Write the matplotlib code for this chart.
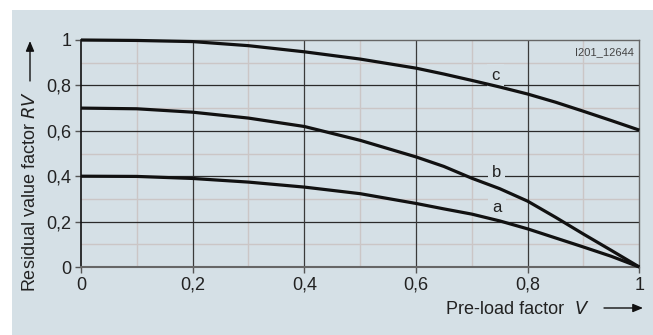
import matplotlib
matplotlib.use("Agg")
import matplotlib.pyplot as plt
from matplotlib.patches import Rectangle, FancyArrowPatch

plt.rcParams['font.family'] = ['Liberation Sans', 'DejaVu Sans']

V = [0.0, 0.1, 0.2, 0.3, 0.4, 0.5, 0.6, 0.65, 0.7, 0.75, 0.8, 0.85, 0.9, 0.95, 1.0]
curve_a = [0.400, 0.399, 0.390, 0.374, 0.352, 0.323, 0.280, 0.256, 0.233, 0.203, 0.168, 0.128, 0.088, 0.047, 0.0]
curve_b = [0.700, 0.697, 0.682, 0.656, 0.619, 0.558, 0.485, 0.443, 0.391, 0.345, 0.290, 0.219, 0.145, 0.073, 0.0]
curve_c = [1.000, 0.998, 0.993, 0.975, 0.948, 0.916, 0.876, 0.850, 0.822, 0.793, 0.762, 0.726, 0.686, 0.645, 0.603]
curve_names = ['a', 'b', 'c']
label_pos = [(0.745, 0.26), (0.744, 0.417), (0.743, 0.845)]
x_ticks = [0, 0.2, 0.4, 0.6, 0.8, 1.0]
x_ticklabels = ['0', '0,2', '0,4', '0,6', '0,8', '1']
y_ticks = [0, 0.2, 0.4, 0.6, 0.8, 1.0]
y_ticklabels = ['0', '0,2', '0,4', '0,6', '0,8', '1']
code_text = 'I201_12644'

W, H = 653, 335
bg = '#d5e0e6'
fig = plt.figure(figsize=(W / 100, H / 100), dpi=100)
fig.patch.set_facecolor('white')
fig.add_artist(Rectangle((12.3 / W, 0), 1 - 12.3 / W, 1 - 10 / H,
                         transform=fig.transFigure, facecolor=bg,
                         edgecolor='none', zorder=0))

ax = fig.add_axes([81 / W, 1 - 267 / H, (639.3 - 81) / W, (267 - 40) / H])
ax.set_facecolor(bg)
ax.set_xlim(0, 1)
ax.set_ylim(0, 1)

# minor grid
for v in [0.1, 0.3, 0.5, 0.7, 0.9]:
    ax.axvline(v, color='#cbc6c6', lw=1.0, zorder=1)
    ax.axhline(v, color='#cbc6c6', lw=1.0, zorder=1)
# major grid
for v in [0.2, 0.4, 0.6, 0.8]:
    ax.axvline(v, color='#3a3a3a', lw=0.9, zorder=2)
    ax.axhline(v, color='#2a2a2a', lw=0.9, zorder=2)

for sp in ['top', 'right']:
    ax.spines[sp].set_color('#666666')
    ax.spines[sp].set_linewidth(1.0)
ax.spines['bottom'].set_color('#666666')
ax.spines['bottom'].set_linewidth(1.5)
ax.spines['left'].set_color('#111111')
ax.spines['left'].set_linewidth(1.2)

for ys in (curve_a, curve_b, curve_c):
    ax.plot(V, ys, color='#111111', lw=2.3, solid_capstyle='butt',
            solid_joinstyle='round', zorder=4, clip_on=False)

for name, (lx, ly) in zip(curve_names, label_pos):
    ax.text(lx, ly, name, fontsize=12, ha='center', va='center', color='#222222', zorder=3,
            bbox=dict(boxstyle='square,pad=0.25', facecolor=bg, edgecolor='none'))

ax.text(0.937, 0.948, code_text, fontsize=8, ha='center', va='center', color='#444444', zorder=5)

ax.set_xticks(x_ticks)
ax.set_xticklabels(x_ticklabels)
ax.set_yticks(y_ticks)
ax.set_yticklabels(y_ticklabels)
ax.tick_params(axis='both', which='major', labelsize=13, length=4, width=1,
               color='#555555', labelcolor='#222222', pad=3)

# axis labels with arrows
fig.text(31 / W, 1 - 192 / H, 'Residual value factor $\\mathit{RV}$', rotation=90,
         fontsize=13, ha='center', va='center', color='#222222')
fig.text(505 / W, 1 - 310 / H, 'Pre-load factor', fontsize=13, ha='center', va='center',
         color='#222222')
fig.text(582 / W, 1 - 310 / H, '$\\mathit{V}$', fontsize=13, ha='center', va='center',
         color='#222222')
fig.add_artist(FancyArrowPatch(
    (604 / W, 1 - 308 / H), (643 / W, 1 - 308 / H), transform=fig.transFigure,
    arrowstyle='-|>,head_length=6,head_width=2.5', color='#111111', lw=1.0,
    shrinkA=0, shrinkB=0))
fig.add_artist(FancyArrowPatch(
    (30 / W, 1 - 81 / H), (30 / W, 1 - 41 / H), transform=fig.transFigure,
    arrowstyle='-|>,head_length=6,head_width=2.5', color='#111111', lw=1.0,
    shrinkA=0, shrinkB=0))

fig.savefig('out.png', dpi=100)
